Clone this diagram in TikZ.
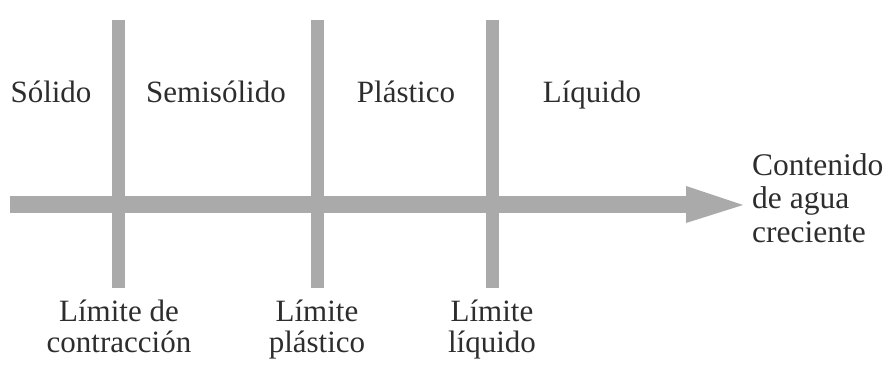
\documentclass[tikz,border=0pt]{standalone}
\usepackage{fontspec}
\setmainfont{Liberation Serif}
\definecolor{bargray}{RGB}{170,170,170}
\definecolor{txt}{RGB}{45,45,45}
\begin{document}
\begin{tikzpicture}[x=1pt,y=-1pt,
  bar/.style={draw=bargray,line width=13pt},
  lbl/.style={text=txt,font=\fontsize{31}{30.5}\selectfont,inner sep=0pt,anchor=base,align=center},
  lblr/.style={text=txt,font=\fontsize{31.5}{33.5}\selectfont,inner sep=0pt,anchor=base west,align=left}]
\useasboundingbox (0,0) rectangle (890,374);
% vertical bars
\coordinate (v1t) at (118,20); \coordinate (v1b) at (118,288);
\coordinate (v2t) at (317,20); \coordinate (v2b) at (317,288);
\coordinate (v3t) at (492,20); \coordinate (v3b) at (492,288);
\draw[bar] (v1t) -- (v1b);
\draw[bar] (v2t) -- (v2b);
\draw[bar] (v3t) -- (v3b);
% horizontal arrow
\coordinate (hs) at (10,204);
\coordinate (hb) at (686,204);
\coordinate (ht) at (686,186);
\coordinate (hbb) at (686,223);
\coordinate (tip) at (743,205);
\draw[draw=bargray,line width=17pt] (hs) -- (hb);
\fill[bargray] (ht) -- (tip) -- (hbb) -- cycle;
% top labels
\node[lbl] (sol) at (51,103) {Sólido};
\node[lbl] (semi) at (216,103) {Semisólido};
\node[lbl] (pla) at (406,103) {Plástico};
\node[lbl] (liq) at (592,103) {Líquido};
% right label (anchor = baseline of last line)
\node[lblr] (cont) at (752,242) {Contenido\\de agua\\creciente};
% bottom labels (anchor = baseline of last line)
\node[lbl] (lc) at (119,352) {Límite de\\contracción};
\node[lbl] (lp) at (317,352) {Límite\\plástico};
\node[lbl] (ll) at (492,352) {Límite\\líquido};
\end{tikzpicture}
\end{document}
